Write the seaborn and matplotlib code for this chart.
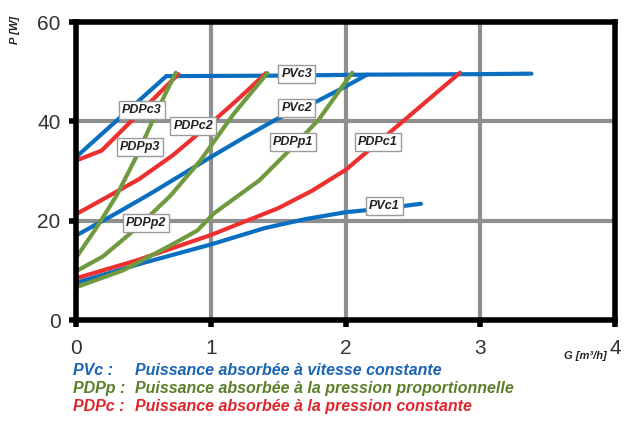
import numpy as np
import pandas as pd
import matplotlib
matplotlib.use("Agg")
import matplotlib.pyplot as plt
import seaborn as sns

# Flow G [m3/h] and absorbed power P [W] for each operating curve
pvc1_g = [0, 0.5, 1.0, 1.4, 1.7, 2.0, 2.3, 2.56]
pvc1_p = [7.5, 11.5, 15.2, 18.5, 20.3, 21.7, 22.5, 23.4]
pvc2_g = [0, 0.3, 0.55, 0.8, 1.0, 1.25, 1.5, 1.75, 2.0, 2.16]
pvc2_p = [17.0, 21.5, 25.4, 29.5, 32.8, 36.8, 40.6, 43.5, 47.0, 49.4]
pvc3_g = [0, 0.67, 1.5, 2.16, 3.0, 3.38]
pvc3_p = [32.8, 49.1, 49.2, 49.4, 49.5, 49.6]

pdpc1_g = [0, 0.45, 1.0, 1.5, 1.75, 2.0, 2.4, 2.85]
pdpc1_p = [8.4, 12.0, 17.1, 22.5, 26.0, 30.2, 39.4, 49.8]
pdpc2_g = [0, 0.2, 0.47, 0.72, 1.0, 1.2, 1.41]
pdpc2_p = [21.3, 24.3, 28.4, 33.2, 39.6, 44.4, 49.7]
pdpc3_g = [0, 0.19, 0.76]
pdpc3_p = [32.1, 34.1, 49.5]

pdpp1_g = [0, 0.35, 0.7, 0.9, 1.02, 1.36, 1.6, 1.8, 2.05]
pdpp1_p = [6.6, 10.0, 15.0, 18.0, 21.4, 28.1, 34.6, 40.3, 49.8]
pdpp2_g = [0, 0.2, 0.45, 0.7, 0.92, 1.17, 1.42]
pdpp2_p = [9.8, 12.8, 18.5, 25.0, 32.0, 41.5, 49.7]
pdpp3_g = [0, 0.15, 0.3, 0.45, 0.6, 0.74]
pdpp3_p = [12.5, 18.5, 25.0, 33.0, 42.0, 49.8]

x_ticks = [0, 1, 2, 3, 4]
y_ticks = [0, 20, 40, 60]

BLUE, RED, GREEN = "#0a6fc0", "#ee2f2f", "#6f9a3e"

curves = [
    ("PVc1", pvc1_g, pvc1_p, BLUE),
    ("PVc2", pvc2_g, pvc2_p, BLUE),
    ("PVc3", pvc3_g, pvc3_p, BLUE),
    ("PDPc1", pdpc1_g, pdpc1_p, RED),
    ("PDPc2", pdpc2_g, pdpc2_p, RED),
    ("PDPc3", pdpc3_g, pdpc3_p, RED),
    ("PDPp1", pdpp1_g, pdpp1_p, GREEN),
    ("PDPp2", pdpp2_g, pdpp2_p, GREEN),
    ("PDPp3", pdpp3_g, pdpp3_p, GREEN),
]

df = pd.concat(
    [pd.DataFrame({"curve": name, "G": g, "P": p}) for name, g, p, _ in curves],
    ignore_index=True,
)
palette = {name: col for name, _, _, col in curves}
hue_order = [name for name, *_ in curves]

# Curve name boxes: (text, G, P)
box_labels = [
    ("PDPc3", 0.49, 42.3),
    ("PDPp3", 0.475, 34.8),
    ("PDPc2", 0.87, 39.1),
    ("PVc3", 1.64, 49.5),
    ("PVc2", 1.64, 42.7),
    ("PDPp1", 1.61, 35.8),
    ("PDPc1", 2.24, 35.8),
    ("PVc1", 2.29, 23.0),
    ("PDPp2", 0.52, 19.5),
]

sns.set_theme(style="white")
plt.rcParams["font.family"] = ["Liberation Sans", "DejaVu Sans"]
plt.rcParams["lines.solid_capstyle"] = "round"

W, H = 631, 423
fig = plt.figure(figsize=(W / 100, H / 100), dpi=100)
ax = fig.add_axes([76 / W, 1 - 320 / H, (615 - 76) / W, (320 - 22) / H])

sns.lineplot(data=df, x="G", y="P", hue="curve", hue_order=hue_order,
             palette=palette, estimator=None, sort=False,
             linewidth=3.0, legend=False, ax=ax, zorder=3)

ax.set_xlim(0, 4)
ax.set_ylim(0, 60)
ax.set_xticks(x_ticks)
ax.set_yticks(y_ticks)
ax.set_xticklabels([str(v) for v in x_ticks])
ax.set_yticklabels([str(v) for v in y_ticks])
ax.grid(True, color="#8e9090", linewidth=3, zorder=0)
ax.set_axisbelow(True)
for s in ax.spines.values():
    s.set_visible(True)
    s.set_color("black")
    s.set_linewidth(4)
    s.set_zorder(5)
ax.tick_params(axis="both", which="major", length=5, width=4, color="black",
               direction="out", labelsize=15, labelcolor="#333333", pad=6,
               bottom=True, left=True)
ax.tick_params(axis="x", pad=9)
ax.set_xlabel("")
ax.set_ylabel("")

for text, gx, py in box_labels:
    ax.text(gx, py, text, ha="center", va="center", fontsize=9,
            fontweight="bold", fontstyle="italic", color="#222222", zorder=6,
            bbox=dict(boxstyle="square,pad=0.25", fc="white", ec="#9a9a9a", lw=1))

fig.text(15 / W, 1 - 30 / H, "P [W]", rotation=90, ha="center", va="center",
         fontsize=8, fontweight="bold", fontstyle="italic", color="#222222")
fig.text(585 / W, 1 - 356 / H, "G [m³/h]", ha="center", va="center",
         fontsize=8, fontweight="bold", fontstyle="italic", color="#222222")

legend_rows = [
    ("PVc :", "Puissance absorbée à vitesse constante", "#1a64b4", 370),
    ("PDPp :", "Puissance absorbée à la pression proportionnelle", "#5b7f2a", 388),
    ("PDPc :", "Puissance absorbée à la pression constante", "#e0262c", 406),
]
for key, desc, col, yp in legend_rows:
    fig.text(73 / W, 1 - yp / H, key, ha="left", va="center", fontsize=11.5,
             fontweight="bold", fontstyle="italic", color=col)
    fig.text(135 / W, 1 - yp / H, desc, ha="left", va="center", fontsize=11.5,
             fontweight="bold", fontstyle="italic", color=col)

fig.savefig("out.png", dpi=100, facecolor="white")
